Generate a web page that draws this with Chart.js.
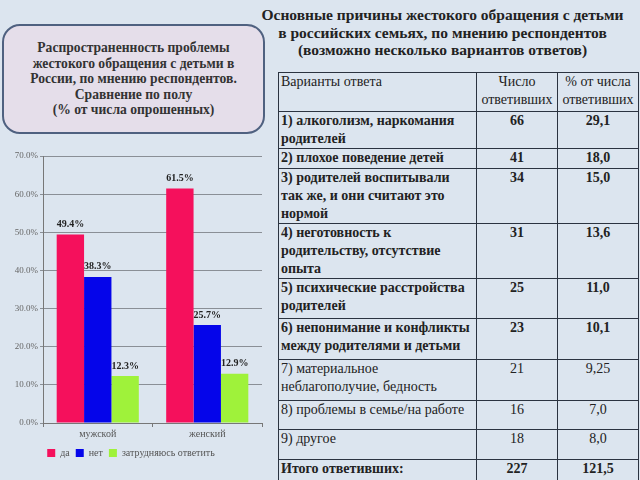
<!DOCTYPE html>
<html lang="ru">
<head>
    <meta charset="UTF-8">
    <title>Жестокое обращение с детьми</title>
    <script src="https://cdn.jsdelivr.net/npm/chart.js"></script>
    <style>
        body {
            margin: 0;
            width: 640px;
            height: 480px;
            overflow: hidden;
            background-color: #dce5ef;
            font-family: "Liberation Serif", serif;
            position: relative;
        }

        .info-box {
            position: absolute;
            left: 2px;
            top: 24px;
            width: 259px;
            height: 106px;
            border: 2px solid #4f6180;
            border-radius: 18px;
            background-color: #e5deea;
            text-align: center;
            font-weight: bold;
            font-size: 13.6px;
            line-height: 15.5px;
            color: #333;
            display: flex;
            align-items: center;
            justify-content: center;
        }

        .main-title {
            position: absolute;
            left: 245px;
            top: 6px;
            width: 395px;
            text-align: center;
            font-weight: bold;
            font-size: 15.5px;
            line-height: 17.5px;
            color: #222;
        }

        .chart-box {
            position: absolute;
            left: 0;
            top: 140px;
            width: 270px;
            height: 328px;
        }

        table {
            position: absolute;
            left: 278px;
            top: 72px;
            width: 360px;
            border-collapse: collapse;
            font-size: 14px;
            line-height: 18px;
            color: #222;
            table-layout: fixed;
        }

        td {
            border: 1.5px solid #2b3340;
            vertical-align: top;
            padding: 0 2px;
            overflow: hidden;
        }

        td.num {
            text-align: center;
        }

        tr.b td {
            font-weight: bold;
        }
    </style>
</head>
<body>
    <div class="info-box">
        <div>Распространенность проблемы<br>жестокого обращения с детьми в<br>России, по мнению респондентов.<br>Сравнение по полу<br>(% от числа опрошенных)</div>
    </div>

    <div class="main-title">Основные причины жестокого обращения с детьми<br>в российских семьях, по мнению респондентов<br>(возможно несколько вариантов ответов)</div>

    <div class="chart-box">
        <canvas id="genderChart"></canvas>
    </div>

    <table id="reasonTable">
        <colgroup>
            <col style="width:198px">
            <col style="width:81px">
            <col style="width:81px">
        </colgroup>
        <tbody></tbody>
    </table>

    <script>
        // данные диаграммы
        const categories = ['мужской', 'женский'];
        const seriesNames = ['да', 'нет', 'затрудняюсь ответить'];
        const yesValues = [49.4, 61.5];
        const noValues = [38.3, 25.7];
        const unsureValues = [12.3, 12.9];
        const seriesColors = ['#f5105c', '#0505ea', '#9ff23a'];

        // данные таблицы
        const answers = [
            '1) алкоголизм, наркомания родителей',
            '2) плохое поведение детей',
            '3) родителей воспитывали так же, и они считают это нормой',
            '4) неготовность к родительству, отсутствие опыта',
            '5) психические расстройства родителей',
            '6) непонимание и конфликты между родителями и детьми',
            '7) материальное неблагополучие, бедность',
            '8) проблемы в семье/на работе',
            '9) другое'
        ];
        const answerCounts = ['66', '41', '34', '31', '25', '23', '21', '16', '18'];
        const answerPercents = ['29,1', '18,0', '15,0', '13,6', '11,0', '10,1', '9,25', '7,0', '8,0'];
        const boldRows = [true, true, true, true, true, true, false, false, false];
        const totalRow = ['Итого ответивших:', '227', '121,5'];

        // высоты строк (как на слайде)
        const rowHeights = [39, 37, 20, 55, 55, 40, 41, 41, 29, 30, 22];

        const tbody = document.querySelector('#reasonTable tbody');
        function addRow(cells, bold, h) {
            const tr = document.createElement('tr');
            if (bold) tr.className = 'b';
            tr.style.height = h + 'px';
            cells.forEach((c, i) => {
                const td = document.createElement('td');
                td.innerHTML = c;
                if (i > 0) td.className = 'num';
                tr.appendChild(td);
            });
            tbody.appendChild(tr);
        }
        addRow(['Варианты ответа', 'Число<br>ответивших', '% от числа<br>ответивших'], false, rowHeights[0]);
        answers.forEach((a, i) => {
            addRow([a, answerCounts[i], answerPercents[i]], boldRows[i], rowHeights[i + 1]);
        });
        addRow(totalRow, true, rowHeights[10]);

        // подписи над столбцами
        const valueLabels = {
            id: 'valueLabels',
            afterDatasetsDraw(chart) {
                const ctx = chart.ctx;
                ctx.save();
                ctx.font = 'bold 10px "Liberation Serif"';
                ctx.fillStyle = '#222';
                ctx.textAlign = 'center';
                ctx.textBaseline = 'bottom';
                chart.data.datasets.forEach((ds, di) => {
                    chart.getDatasetMeta(di).data.forEach((bar, i) => {
                        ctx.fillText(ds.data[i].toFixed(1) + '%', bar.x, bar.y - 5);
                    });
                });
                ctx.restore();
            }
        };

        new Chart(document.getElementById('genderChart'), {
            type: 'bar',
            data: {
                labels: categories,
                datasets: [
                    { label: seriesNames[0], data: yesValues, backgroundColor: seriesColors[0] },
                    { label: seriesNames[1], data: noValues, backgroundColor: seriesColors[1] },
                    { label: seriesNames[2], data: unsureValues, backgroundColor: seriesColors[2] }
                ]
            },
            options: {
                responsive: true,
                maintainAspectRatio: false,
                animation: false,
                datasets: {
                    bar: { categoryPercentage: 0.75, barPercentage: 1.0 }
                },
                layout: { padding: { top: 16, right: 8, left: 0, bottom: 0 } },
                plugins: {
                    legend: {
                        position: 'bottom',
                        labels: {
                            boxWidth: 8,
                            boxHeight: 8,
                            padding: 6,
                            color: '#555',
                            font: { family: 'Liberation Serif', size: 10 }
                        }
                    },
                    tooltip: { enabled: false }
                },
                scales: {
                    x: {
                        grid: { drawOnChartArea: false, offset: true, tickLength: 4, color: '#777' },
                        border: { color: '#777' },
                        ticks: { color: '#555', font: { family: 'Liberation Serif', size: 10 }, padding: 1 },
                        afterFit(s) { s.height = 19; }
                    },
                    y: {
                        min: 0,
                        max: 70,
                        ticks: {
                            stepSize: 10,
                            color: '#666',
                            font: { family: 'Liberation Serif', size: 9 },
                            padding: 2,
                            callback: v => v.toFixed(1) + '%'
                        },
                        grid: { color: '#8a8f96', tickLength: 3 },
                        border: { color: '#777' },
                        afterFit(s) { s.width = 43; }
                    }
                }
            },
            plugins: [valueLabels]
        });
    </script>
</body>
</html>
